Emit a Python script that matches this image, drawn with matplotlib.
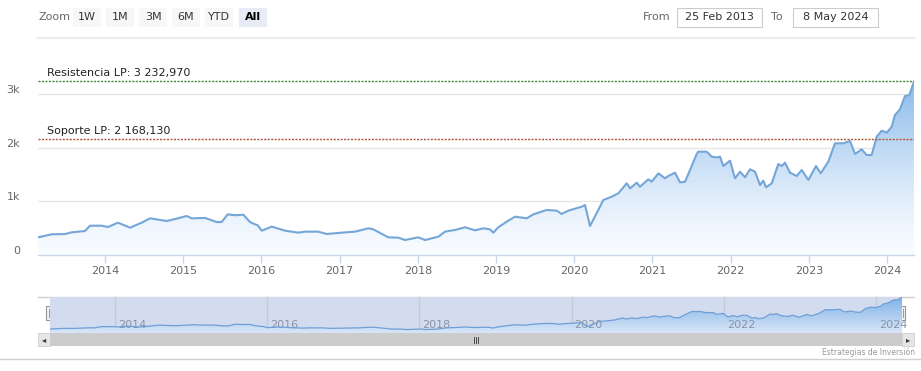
import matplotlib
matplotlib.use("Agg")
import matplotlib.pyplot as plt
import numpy as np
from matplotlib.patches import Rectangle, PathPatch
from matplotlib.colors import LinearSegmentedColormap
from matplotlib.transforms import ScaledTranslation

# ---------------- data (decimal year, index value) ----------------
dates = [2013.147, 2013.318, 2013.488, 2013.574, 2013.744, 2013.808, 2013.958, 2014.038,
         2014.166, 2014.320, 2014.469, 2014.575, 2014.789, 2014.895, 2015.045, 2015.109,
         2015.279, 2015.428, 2015.492, 2015.569, 2015.662, 2015.769, 2015.854, 2015.918,
         2015.953, 2016.004, 2016.132, 2016.302, 2016.472, 2016.558, 2016.728, 2016.835,
         2017.027, 2017.197, 2017.367, 2017.431, 2017.623, 2017.751, 2017.836, 2018.006,
         2018.092, 2018.262, 2018.348, 2018.476, 2018.604, 2018.731, 2018.838, 2018.923,
         2018.965, 2019.029, 2019.137, 2019.243, 2019.393, 2019.477, 2019.648, 2019.776,
         2019.840, 2019.925, 2020.096, 2020.138, 2020.202, 2020.308, 2020.372, 2020.480,
         2020.564, 2020.671, 2020.714, 2020.799, 2020.841, 2020.948, 2020.991, 2021.076,
         2021.161, 2021.203, 2021.289, 2021.353, 2021.417, 2021.481, 2021.566, 2021.587,
         2021.651, 2021.694, 2021.758, 2021.822, 2021.864, 2021.907, 2021.992, 2022.056,
         2022.120, 2022.184, 2022.248, 2022.312, 2022.376, 2022.418, 2022.453, 2022.526,
         2022.610, 2022.653, 2022.696, 2022.760, 2022.846, 2022.909, 2022.994, 2023.092,
         2023.152, 2023.249, 2023.335, 2023.441, 2023.527, 2023.591, 2023.676, 2023.740,
         2023.804, 2023.868, 2023.932, 2023.997, 2024.060, 2024.102, 2024.166, 2024.230,
         2024.285, 2024.345]
values = [330, 385, 390, 422, 447, 546, 546, 521,
          602, 509, 602, 683, 633, 670, 726, 683,
          690, 614, 614, 757, 740, 750, 614, 571,
          553, 453, 528, 453, 416, 435, 435, 391,
          416, 435, 497, 478, 329, 323, 279, 329,
          279, 341, 435, 466, 516, 460, 497, 478,
          416, 516, 621, 714, 683, 757, 838, 826,
          764, 826, 900, 931, 540, 838, 1024, 1086,
          1148, 1335, 1241, 1347, 1272, 1409, 1365, 1520,
          1428, 1471, 1533, 1353, 1365, 1583, 1881, 1924,
          1924, 1924, 1831, 1818, 1831, 1657, 1756, 1428,
          1552, 1447, 1596, 1552, 1304, 1384, 1261, 1335,
          1695, 1657, 1719, 1533, 1471, 1583, 1397, 1657,
          1521, 1738, 2080, 2080, 2123, 1881, 1968, 1862,
          1862, 2203, 2315, 2278, 2390, 2607, 2713, 2961,
          2980, 3227]

resistance = 3232.970
support = 2168.130
resistance_label = "Resistencia LP: 3 232,970"
support_label = "Soporte LP: 2 168,130"

year_ticks = list(range(2014, 2025))
nav_year_ticks = [2014, 2016, 2018, 2020, 2022, 2024]
y_ticks = [0, 1000, 2000, 3000]
y_tick_labels = ["0", "1k", "2k", "3k"]
zoom_buttons = ["1W", "1M", "3M", "6M", "YTD", "All"]
from_date = "25 Feb 2013"
to_date = "8 May 2024"
credit = "Estrategias de Inversión"

# ---------------- figure ----------------
W, H = 921, 371
fig = plt.figure(figsize=(W / 100, H / 100), dpi=100)
fig.patch.set_facecolor("white")
plt.rcParams['font.family'] = ['DejaVu Sans']


def px_axes(x0, y0, x1, y1, **kw):
    return fig.add_axes([x0 / W, 1 - y1 / H, (x1 - x0) / W, (y1 - y0) / H], **kw)


ui = fig.add_axes([0, 0, 1, 1])
ui.set_xlim(0, W)
ui.set_ylim(H, 0)
ui.axis("off")
ui.set_zorder(0)

x = np.array(dates)
y = np.array(values)
XMIN, XMAX = 2013.143, 2024.345

# ---------------- main chart ----------------
ax = px_axes(38, 45, 914, 255)
ax.set_zorder(2)
ax.patch.set_alpha(0)
ax.set_xlim(XMIN, XMAX)
ax.set_ylim(0, (255 - 45) / 53.7 * 1000)

for s in ["top", "right", "left"]:
    ax.spines[s].set_visible(False)
ax.spines["bottom"].set_color("#ccd6eb")
ax.spines["bottom"].set_linewidth(1)

ax.set_yticks(y_ticks)
ax.set_yticklabels(y_tick_labels)
ax.tick_params(axis="y", length=0, pad=13, labelsize=8, labelcolor="#666666")
for lab in ax.get_yticklabels():
    lab.set_transform(lab.get_transform() + ScaledTranslation(0, 5 / 100, fig.dpi_scale_trans))
ax.yaxis.grid(True, color="#e6e6e6", linewidth=1)
ax.set_axisbelow(True)

ax.set_xticks(year_ticks)
ax.set_xticklabels([str(v) for v in year_ticks])
ax.tick_params(axis="x", direction="out", length=6, width=1, color="#ccd6eb",
               pad=2, labelsize=8, labelcolor="#666666")

# gradient area
cmap = LinearSegmentedColormap.from_list("g", [(0.975, 0.985, 1.0), (0.54, 0.73, 0.92)])
poly = ax.fill_between(x, y, 0, facecolor="none", edgecolor="none")
clip = PathPatch(poly.get_paths()[0], transform=ax.transData, facecolor="none", edgecolor="none")
ax.add_patch(clip)
grad = (np.linspace(0, 1, 256) ** 1.35).reshape(-1, 1)
im = ax.imshow(grad, extent=[XMIN, XMAX, 0, y.max()], aspect="auto", origin="lower",
               cmap=cmap, vmin=0, vmax=1, zorder=1)
im.set_clip_path(clip)
ax.plot(x, y, color="#75a6d8", linewidth=1.5, zorder=3, solid_joinstyle="round")

ax.axhline(resistance, color="#3d8a3a", linestyle=(0, (1.5, 1)), linewidth=1.0, zorder=4)
ax.axhline(support, color="#b0563e", linestyle=(0, (1.5, 1)), linewidth=1.0, zorder=4)
ax.annotate(resistance_label, xy=(XMIN, resistance), xytext=(9, 3), textcoords="offset pixels",
            fontsize=8, color="#222222", va="bottom", ha="left")
ax.annotate(support_label, xy=(XMIN, support), xytext=(9, 3), textcoords="offset pixels",
            fontsize=8, color="#222222", va="bottom", ha="left")

# ---------------- navigator ----------------
ui.plot([38, 914], [297, 297], color="#cccccc", lw=1)
nav = px_axes(50, 297, 902, 333)
nav.set_zorder(2)
nav.set_facecolor("#d3dcee")
nav.set_xlim(XMIN, XMAX)
nav.set_ylim(-30, 3240)
for s in nav.spines.values():
    s.set_visible(False)
nav.set_xticks(nav_year_ticks)
nav.tick_params(axis="x", length=0, labelbottom=False)
nav.set_yticks([])
nav.xaxis.grid(True, color="#c2c9d8", linewidth=1)
nav.set_axisbelow(True)
for yr in nav_year_ticks:
    nav.annotate(str(yr), xy=(yr, 0), xytext=(3, 3), textcoords="offset pixels",
                 fontsize=8, color="#8a93a6", ha="left", va="bottom")
ncmap = LinearSegmentedColormap.from_list("n", [(0.85, 0.90, 0.97), (0.50, 0.70, 0.91)])
npoly = nav.fill_between(x, y, -30, facecolor="none", edgecolor="none")
nclip = PathPatch(npoly.get_paths()[0], transform=nav.transData, facecolor="none", edgecolor="none")
nav.add_patch(nclip)
nim = nav.imshow(np.linspace(0, 1, 256).reshape(-1, 1), extent=[XMIN, XMAX, -30, y.max()],
                 aspect="auto", origin="lower", cmap=ncmap, zorder=1)
nim.set_clip_path(nclip)
nav.plot(x, y, color="#6f9fd6", linewidth=0.9, zorder=3)

# handles
for hx in (50, 902):
    ui.add_patch(Rectangle((hx - 4, 306), 7, 14, facecolor="#f2f2f2", edgecolor="#999999",
                           lw=0.8, zorder=5))
    ui.plot([hx - 1.5, hx - 1.5], [309, 317], color="#999999", lw=0.7, zorder=6)
    ui.plot([hx + 0.5, hx + 0.5], [309, 317], color="#999999", lw=0.7, zorder=6)

# scrollbar
ui.add_patch(Rectangle((38, 333), 876, 13, facecolor="#f2f2f2", edgecolor="none", zorder=1))
ui.add_patch(Rectangle((50, 333), 852, 13, facecolor="#cccccc", edgecolor="none", zorder=1))
ui.add_patch(Rectangle((38, 333), 12, 13, facecolor="#e6e6e6", edgecolor="#cccccc", lw=0.6, zorder=2))
ui.add_patch(Rectangle((902, 333), 12, 13, facecolor="#e6e6e6", edgecolor="#cccccc", lw=0.6, zorder=2))
ui.text(44, 339.5, "◂", fontsize=6, color="#333333", ha="center", va="center", zorder=3)
ui.text(908, 339.5, "▸", fontsize=6, color="#333333", ha="center", va="center", zorder=3)
for dx in (-2, 0, 2):
    ui.plot([476 + dx, 476 + dx], [336.5, 342.5], color="#333333", lw=0.6, zorder=3)

# bottom separator and credit
ui.plot([0, 921], [359, 359], color="#d0d0d0", lw=1)
ui.text(915, 352, credit, fontsize=5.5, color="#999999", ha="right", va="center")

# ---------------- range selector ----------------
ui.plot([37, 915], [38, 38], color="#eeeeee", lw=1.5)
ui.text(38, 17.5, "Zoom", fontsize=8, color="#666666", ha="left", va="center")
btn_x = [73, 106, 139, 172, 205, 239]
for bx, lab in zip(btn_x, zoom_buttons):
    sel = lab == "All"
    ui.add_patch(Rectangle((bx, 8), 28, 19, facecolor="#e6ebf5" if sel else "#f7f7f7",
                           edgecolor="none", zorder=1))
    ui.text(bx + 14, 17.5, lab, fontsize=8, color="#000000" if sel else "#333333",
            fontweight="bold" if sel else "normal", ha="center", va="center", zorder=2)

ui.text(670, 17.5, "From", fontsize=8, color="#666666", ha="right", va="center")
ui.add_patch(Rectangle((677, 8), 85, 19, facecolor="white", edgecolor="#cccccc", lw=0.8))
ui.text(719.5, 17.5, from_date, fontsize=8, color="#333333", ha="center", va="center")
ui.text(783, 17.5, "To", fontsize=8, color="#666666", ha="right", va="center")
ui.add_patch(Rectangle((793, 8), 85, 19, facecolor="white", edgecolor="#cccccc", lw=0.8))
ui.text(835.5, 17.5, to_date, fontsize=8, color="#333333", ha="center", va="center")

fig.savefig("out.png", dpi=100, facecolor="white")
